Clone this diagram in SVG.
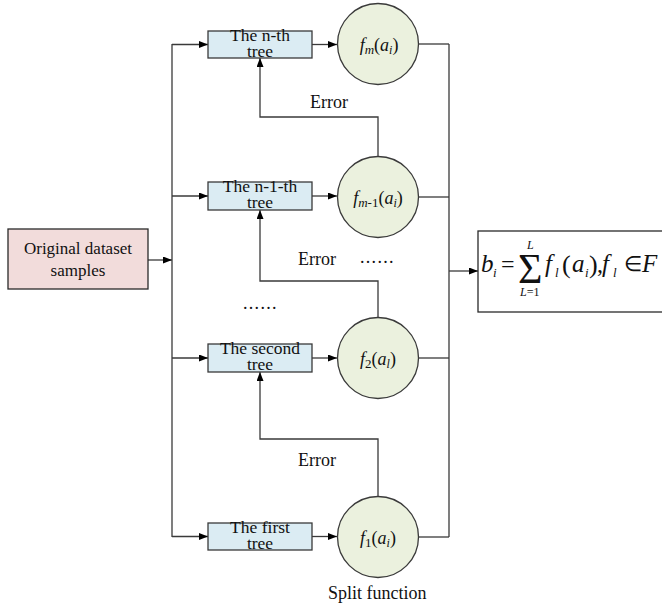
<svg xmlns="http://www.w3.org/2000/svg" width="662" height="608" viewBox="0 0 662 608" font-family="'Liberation Serif', 'Times New Roman', serif">
  <style>
    text { font-family: "Liberation Serif", "Times New Roman", serif; fill: #111; }
    .lbl { font-size: 18px; }
    .tree-box { fill: #dbecf3; stroke: #3a3a3a; stroke-width: 1.3; }
    .split { fill: #ebf1de; stroke: #3a3a3a; stroke-width: 1.3; }
    .src { fill: #f2dcdb; stroke: #2a2a2a; stroke-width: 1.3; }
    .out { fill: #ffffff; stroke: #2a2a2a; stroke-width: 1.3; }
    .tl { font-size: 17.5px; text-anchor: middle; }
    .fn { font-size: 18px; text-anchor: middle; }
    .it { font-style: italic; }
    .wire { fill: none; stroke: #3a3a3a; stroke-width: 1.3; }
    .arrow { marker-end: url(#tip); }
  </style>
  <defs>
    <marker id="tip" markerUnits="userSpaceOnUse" markerWidth="10" markerHeight="8" refX="9" refY="3.5" orient="auto">
      <path d="M0,0 L9,3.5 L0,7 Z" fill="#000"/>
    </marker>
  </defs>

  <!-- connectors -->
  <g id="connectors">
    <!-- input to distribution bus -->
    <path class="wire arrow" d="M148,260 H172"/>
    <path class="wire" d="M172,44 V537"/>
    <path class="wire arrow" d="M172,44.5 H208"/>
    <path class="wire arrow" d="M172,196 H208"/>
    <path class="wire arrow" d="M172,358 H208"/>
    <path class="wire arrow" d="M172,536.5 H208"/>
    <!-- trees to split functions -->
    <path class="wire arrow" d="M312,44.5 H337"/>
    <path class="wire arrow" d="M312,196 H337"/>
    <path class="wire arrow" d="M312,358 H337"/>
    <path class="wire arrow" d="M312,536.5 H337"/>
    <!-- split functions to collector bus -->
    <path class="wire" d="M418.5,44 H449"/>
    <path class="wire" d="M418.5,197 H449"/>
    <path class="wire" d="M418.5,358 H449"/>
    <path class="wire" d="M418.5,537 H449"/>
    <path class="wire" d="M449,44 V537"/>
    <path class="wire arrow" d="M449,271 H478"/>
    <!-- error feedback loops -->
    <path class="wire arrow" d="M378,156.5 V117 H260 V58"/>
    <path class="wire arrow" d="M378,317.5 V281 H260 V210"/>
    <path class="wire arrow" d="M378,496.5 V439 H260 V372"/>
  </g>

  <!-- source data -->
  <g id="source">
    <rect class="src" x="8" y="229" width="140" height="60"/>
    <text x="78" y="254" font-size="17" text-anchor="middle">Original dataset</text>
    <text x="78" y="276" font-size="17" text-anchor="middle">samples</text>
  </g>

  <!-- trees -->
  <g id="tree-n">
    <rect class="tree-box" x="208" y="31" width="104" height="27"/>
    <text class="tl" x="260" y="41">The n-th</text>
    <text class="tl" x="260" y="57">tree</text>
  </g>
  <g id="tree-n-1">
    <rect class="tree-box" x="208" y="182" width="104" height="28"/>
    <text class="tl" x="260" y="192">The n-1-th</text>
    <text class="tl" x="260" y="208">tree</text>
  </g>
  <g id="tree-2">
    <rect class="tree-box" x="208" y="344" width="104" height="28"/>
    <text class="tl" x="260" y="354">The second</text>
    <text class="tl" x="260" y="370">tree</text>
  </g>
  <g id="tree-1">
    <rect class="tree-box" x="208" y="523" width="104" height="27"/>
    <text class="tl" x="260" y="533">The first</text>
    <text class="tl" x="260" y="549">tree</text>
  </g>

  <!-- split functions -->
  <g id="split-m">
    <circle class="split" cx="378" cy="44" r="40.5"/>
    <text class="fn" x="379" y="51"><tspan class="it">f</tspan><tspan class="it" font-size="13" dy="3">m</tspan><tspan dy="-3">(</tspan><tspan class="it">a</tspan><tspan class="it" font-size="12" dy="3">i</tspan><tspan dy="-3">)</tspan></text>
  </g>
  <g id="split-m-1">
    <circle class="split" cx="378" cy="197" r="40.5"/>
    <text class="fn" x="378" y="204"><tspan class="it">f</tspan><tspan class="it" font-size="13" dy="3">m</tspan><tspan font-size="13">-1</tspan><tspan dy="-3">(</tspan><tspan class="it">a</tspan><tspan class="it" font-size="12" dy="3">i</tspan><tspan dy="-3">)</tspan></text>
  </g>
  <g id="split-2">
    <circle class="split" cx="378" cy="358" r="40.5"/>
    <text class="fn" x="378" y="365"><tspan class="it">f</tspan><tspan font-size="13" dy="3">2</tspan><tspan dy="-3">(</tspan><tspan class="it">a</tspan><tspan class="it" font-size="12" dy="3">l</tspan><tspan dy="-3">)</tspan></text>
  </g>
  <g id="split-1">
    <circle class="split" cx="378" cy="537" r="40.5"/>
    <text class="fn" x="378" y="544"><tspan class="it">f</tspan><tspan font-size="13" dy="3">1</tspan><tspan dy="-3">(</tspan><tspan class="it">a</tspan><tspan class="it" font-size="12" dy="3">i</tspan><tspan dy="-3">)</tspan></text>
  </g>

  <!-- aggregated output -->
  <g id="output">
    <rect class="out" x="478" y="231" width="190" height="81"/>
    <text x="481" y="272" font-size="25" class="it">b</text>
    <text x="493" y="277" font-size="13" class="it">i</text>
    <text x="501" y="272" font-size="24">=</text>
    <text x="518" y="283" font-size="42">Σ</text>
    <text x="527" y="249" font-size="12" class="it">L</text>
    <text x="520" y="296" font-size="12"><tspan class="it">L</tspan>=1</text>
    <text x="545" y="272" font-size="25" class="it">f</text>
    <text x="555" y="277" font-size="13" class="it">l</text>
    <text x="562" y="273" font-size="26">(</text>
    <text x="572" y="272" font-size="25" class="it">a</text>
    <text x="585" y="277" font-size="13" class="it">i</text>
    <text x="589" y="273" font-size="26">)</text>
    <text x="597" y="272" font-size="24">,</text>
    <text x="602" y="272" font-size="25" class="it">f</text>
    <text x="613" y="277" font-size="13" class="it">l</text>
    <text x="624" y="271" font-size="21">∈</text>
    <text x="642" y="272" font-size="25" class="it">F</text>
  </g>

  <!-- annotations -->
  <g id="labels">
    <text class="lbl" x="310" y="108">Error</text>
    <text class="lbl" x="298" y="265">Error</text>
    <text class="lbl" x="298" y="466">Error</text>
    <text class="lbl" x="360" y="263" letter-spacing="1.3">......</text>
    <text class="lbl" x="243" y="309" letter-spacing="1.3">......</text>
    <text class="lbl" x="328" y="599">Split function</text>
  </g>
</svg>
